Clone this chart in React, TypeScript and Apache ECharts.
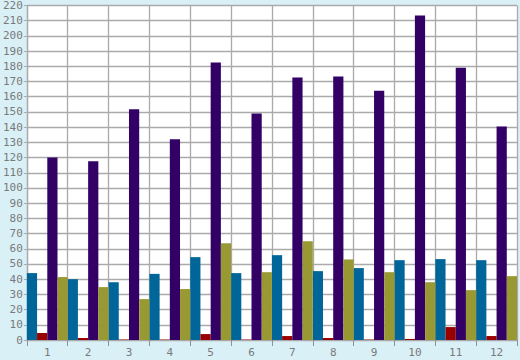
import React, { useEffect, useRef } from "react";
import * as echarts from "echarts";

const categories = ["1", "2", "3", "4", "5", "6", "7", "8", "9", "10", "11", "12"];
const blueValues = [44, 40, 38, 43.5, 54.5, 44, 55.8, 45.3, 47.3, 52.5, 53.2, 52.5];
const redValues = [4.6, 1.3, 0.3, 0.3, 3.9, 0.3, 2.6, 1.3, 0.3, 0.7, 8.5, 2.6];
const purpleValues = [120, 117.5, 151.7, 132, 182.5, 149, 172.6, 173.3, 164, 213.4, 179, 140.5];
const oliveValues = [41.4, 34.8, 26.9, 33.5, 63.7, 44.6, 65, 53, 44.6, 38, 32.8, 42];

export default function App() {
  const ref = useRef<HTMLDivElement>(null);
  useEffect(() => {
    if (!ref.current) return;
    const chart = echarts.init(ref.current, undefined, { renderer: "svg" });
    const labelStyle = { color: "#7a7a7a", fontFamily: "DejaVu Sans Mono", fontSize: 11 };
    const mk = (name: string, data: number[], color: string) => ({
      name,
      type: "bar" as const,
      data,
      itemStyle: { color },
      barGap: "0%",
      barCategoryGap: "0%",
    });
    chart.setOption({
      animation: false,
      backgroundColor: "#d9f0f7",
      grid: {
        left: 25,
        right: 3,
        top: 5,
        bottom: 20,
        show: true,
        backgroundColor: "#ffffff",
        borderWidth: 0,
      },
      xAxis: {
        type: "category",
        data: categories,
        axisLine: { show: true, lineStyle: { color: "#a8a8a8", width: 1 } },
        axisTick: { show: true, alignWithLabel: false, length: 6, lineStyle: { color: "#909090" } },
        axisLabel: { ...labelStyle, margin: 7 },
        splitLine: { show: true, lineStyle: { color: "#aaaaaa", width: 1.3 } },
      },
      yAxis: {
        type: "value",
        min: 0,
        max: 220,
        interval: 10,
        axisLine: { show: true, lineStyle: { color: "#aaaaaa", width: 1.3 } },
        axisTick: { show: true, length: 3, lineStyle: { color: "#aaaaaa" } },
        axisLabel: { ...labelStyle, margin: 4 },
        splitLine: { show: true, lineStyle: { color: "#aaaaaa", width: 1.3 } },
      },
      series: [
        mk("A", blueValues, "#006699"),
        mk("B", redValues, "#990000"),
        mk("C", purpleValues, "#330066"),
        mk("D", oliveValues, "#999933"),
      ],
    });
    return () => chart.dispose();
  }, []);
  return <div ref={ref} style={{ width: 520, height: 360, position: "absolute", left: 0, top: 0 }} />;
}
